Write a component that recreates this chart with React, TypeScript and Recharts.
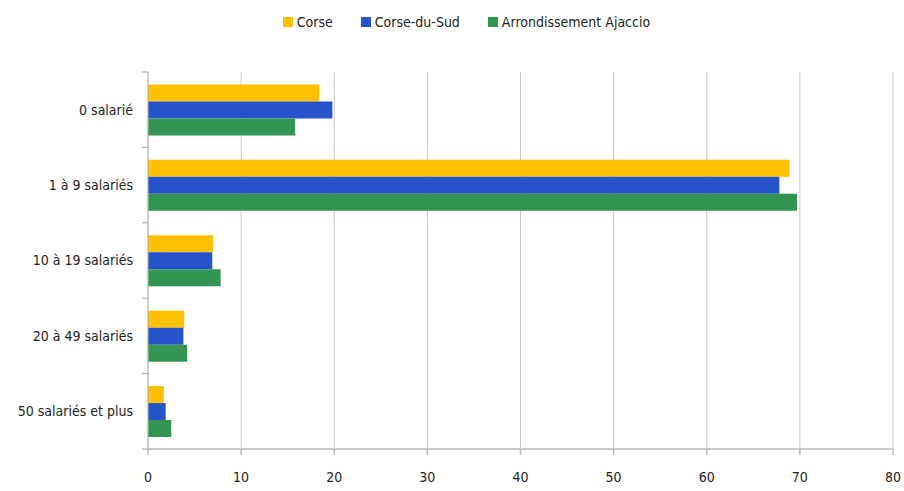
import { Bar, BarChart, CartesianGrid, Legend, XAxis, YAxis } from "recharts";

const categories = ["0 salarié", "1 à 9 salariés", "10 à 19 salariés", "20 à 49 salariés", "50 salariés et plus"];
const corse = [18.4, 68.9, 7.0, 3.9, 1.7];
const corseDuSud = [19.8, 67.8, 6.9, 3.8, 1.9];
const ajaccio = [15.8, 69.7, 7.8, 4.2, 2.5];
const xTicks = [0, 10, 20, 30, 40, 50, 60, 70, 80];

const series = [
  { key: "corse", name: "Corse", color: "#FFC000" },
  { key: "cds", name: "Corse-du-Sud", color: "#2653C9" },
  { key: "ajaccio", name: "Arrondissement Ajaccio", color: "#339552" },
];

const data = categories.map((cat, i) => ({
  cat,
  corse: corse[i],
  cds: corseDuSud[i],
  ajaccio: ajaccio[i],
}));

const FONT = "'DejaVu Sans Condensed', 'Liberation Sans Narrow', sans-serif";
const PLOT_LEFT = 148;

function LegendBox() {
  return (
    <div
      style={{
        display: "flex",
        justifyContent: "center",
        gap: 28,
        fontFamily: FONT,
        fontSize: 14,
        color: "#222",
        paddingLeft: 40,
      }}
    >
      {series.map((s) => (
        <span key={s.key} style={{ display: "flex", alignItems: "center", gap: 4 }}>
          <span style={{ width: 10, height: 10, background: s.color, display: "inline-block" }} />
          {s.name}
        </span>
      ))}
    </div>
  );
}

// category label + small tick marks on the band edges (like the Excel original)
function CatTick(props: any) {
  const { x, y, payload, index, visibleTicksCount } = props;
  const half = payload?.offset ?? 0;
  const last = index === (visibleTicksCount ?? categories.length) - 1;
  return (
    <g>
      <line x1={PLOT_LEFT - 6} x2={PLOT_LEFT} y1={y - half} y2={y - half} stroke="#a8a8a8" />
      {last && <line x1={PLOT_LEFT - 6} x2={PLOT_LEFT} y1={y + half} y2={y + half} stroke="#a8a8a8" />}
      <text x={x} y={y} dy="0.35em" textAnchor="end" fontFamily={FONT} fontSize={14} fill="#222">
        {payload.value}
      </text>
    </g>
  );
}

export default function App() {
  return (
    <div style={{ width: 904, height: 491, background: "#fff" }}>
      <style>{"body{margin:0}"}</style>
      <BarChart
        layout="vertical"
        width={904}
        height={491}
        data={data}
        margin={{ top: 56, right: 11, left: 0, bottom: 12 }}
        barCategoryGap="16.5%"
        barGap={0}
      >
        <CartesianGrid horizontal={false} stroke="#c8c8c8" />
        <Legend verticalAlign="top" content={() => <LegendBox />} wrapperStyle={{ top: 14 }} />
        <XAxis
          type="number"
          domain={[0, 80]}
          ticks={xTicks}
          interval={0}
          stroke="#b8b8b8"
          strokeWidth={1.5}
          tickSize={6}
          tickMargin={17}
          height={30}
          tick={{ fontFamily: FONT, fontSize: 14, fill: "#222" }}
        />
        <YAxis
          type="category"
          dataKey="cat"
          width={PLOT_LEFT}
          stroke="#b8b8b8"
          tickLine={false}
          tickSize={0}
          tickMargin={15}
          interval={0}
          tick={<CatTick />}
        />
        {series.map((s) => (
          <Bar key={s.key} dataKey={s.key} name={s.name} fill={s.color} isAnimationActive={false} />
        ))}
      </BarChart>
    </div>
  );
}
